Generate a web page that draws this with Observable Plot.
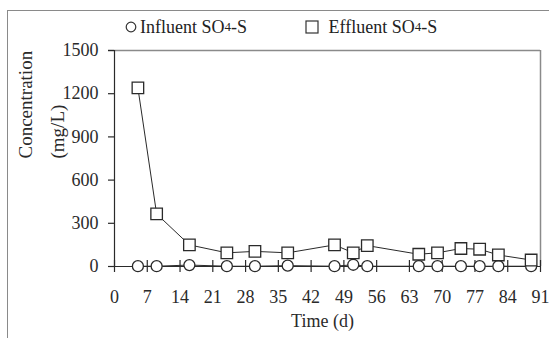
<!DOCTYPE html>
<html><head><meta charset="utf-8">
<script src="https://cdn.jsdelivr.net/npm/d3@7"></script>
<script src="https://cdn.jsdelivr.net/npm/@observablehq/plot@0.6"></script>
<style>
html,body{margin:0;padding:0;background:#fff;overflow:hidden}
#wrap{position:relative;width:549px;height:338px;overflow:hidden;font-family:"Liberation Serif","Times New Roman",serif;color:#222}
#frame{position:absolute;left:7px;top:10px;width:600px;height:400px;border:1.5px solid #8a8a8a;box-sizing:border-box}
#legend{position:absolute;top:15px;left:0;width:549px;height:24px;font-size:18px;line-height:24px}
.item{position:absolute;top:0;display:flex;align-items:center;white-space:nowrap}
.item svg{margin-right:3px}
sub{font-size:13px;vertical-align:-3px;line-height:0}
#chart{position:absolute;left:0;top:40px}
</style></head>
<body>
<div id="wrap">
  <div id="frame"></div>
  <div id="legend">
    <div class="item" style="left:125px"><svg width="12" height="12"><circle cx="6" cy="6" r="4.8" fill="none" stroke="#333" stroke-width="1.2"/></svg>Influent SO<sub>4</sub>-S</div>
    <div class="item" style="left:305px"><svg width="16" height="14"><rect x="1" y="1" width="12" height="12" fill="none" stroke="#333" stroke-width="1.2"/></svg>&nbsp;Effluent SO<sub>4</sub>-S</div>
  </div>
  <div id="chart"></div>
</div>
<script>
const days = [5, 9, 16, 24, 30, 37, 47, 51, 54, 65, 69, 74, 78, 82, 89];
const influent = [2, 2, 10, 2, 2, 6, 2, 12, 2, 2, 2, 2, 2, 2, 2];
const effluent = [1240, 365, 150, 95, 105, 95, 150, 95, 145, 85, 95, 125, 120, 80, 45];
const xTicks = [0, 7, 14, 21, 28, 35, 42, 49, 56, 63, 70, 77, 84, 91];
const yTicks = [0, 300, 600, 900, 1200, 1500];
const yLabelLines = ["Concentration", "(mg/L)"];

const inf = days.map((d, i) => ({day: d, value: influent[i]}));
const eff = days.map((d, i) => ({day: d, value: effluent[i]}));

const ink = "#2a2a2a";
const chart = Plot.plot({
  width: 549,
  height: 298,
  marginTop: 10,
  marginBottom: 72,
  marginLeft: 114,
  marginRight: 9,
  style: {fontFamily: "'Liberation Serif','Times New Roman',serif", fontSize: "18px", color: ink, background: "transparent"},
  x: {domain: [0, 91]},
  y: {domain: [0, 1500]},
  marks: [
    Plot.ruleY([1500], {x1: 0, x2: 91, insetLeft: -6, stroke: "#8a8a8a", strokeWidth: 1.5}),
    Plot.ruleX([91], {y1: 1500, y2: 0, stroke: "#8a8a8a", strokeWidth: 1.5}),
    Plot.ruleX([0], {y1: 1500, y2: 0, stroke: ink, strokeWidth: 1.2}),
    Plot.ruleY([0], {x1: 0, x2: 91, stroke: ink, strokeWidth: 1.2}),
    Plot.ruleX(xTicks, {y1: 0, y2: 0, insetTop: -6, insetBottom: -6, stroke: ink, strokeWidth: 1.2}),
    Plot.axisY({ticks: yTicks, tickFormat: d => String(d), tickSize: 6, tickPadding: 10, label: null, fontSize: 18, stroke: ink, strokeWidth: 1.2}),
    Plot.axisX({ticks: xTicks, tickFormat: d => String(d), tickSize: 0, tickPadding: 24, label: null, fontSize: 18}),
    Plot.line(inf, {x: "day", y: "value", stroke: ink, strokeWidth: 1}),
    Plot.line(eff, {x: "day", y: "value", stroke: ink, strokeWidth: 1}),
    Plot.dot(inf, {x: "day", y: "value", r: 5.5, stroke: ink, strokeWidth: 1.3, fill: "white"}),
    Plot.dot(eff, {x: "day", y: "value", symbol: "square", r: 6.5, stroke: ink, strokeWidth: 1.3, fill: "white"}),
    Plot.text([yLabelLines[0]], {frameAnchor: "left", rotate: -90, dx: -89, fontSize: 19, fill: ink}),
    Plot.text([yLabelLines[1]], {frameAnchor: "left", rotate: -90, dx: -57, fontSize: 19, fill: ink}),
    Plot.text(["Time (d)"], {frameAnchor: "bottom", dy: 60, dx: -5, fontSize: 18, fill: ink})
  ]
});
document.getElementById("chart").append(chart);
</script>
</body></html>
